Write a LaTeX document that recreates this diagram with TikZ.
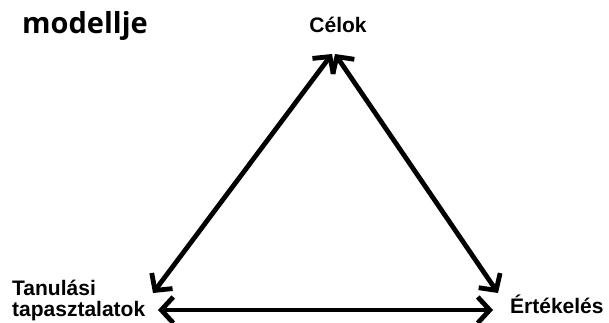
\documentclass[tikz,border=0pt]{standalone}
\usepackage{fontspec}
\setmainfont{Liberation Sans}
\newfontfamily\titlefont{Open Sans}
\usetikzlibrary{arrows.meta}

\begin{document}
\begin{tikzpicture}[x=1pt, y=-1pt,
		lbl/.style={inner sep=0, font=\fontsize{21}{20.5}\selectfont\bfseries, align=left},
		link/.style={line width=4.8pt, {Straight Barb[length=12pt, width=26pt]}-{Straight Barb[length=12pt, width=26pt]}}]
			\useasboundingbox (0,0) rectangle (609,322);
			\node[anchor=base west, inner sep=0, font=\titlefont\fontsize{29}{30}\selectfont\bfseries] (title) at (22,33) {modellje};
			\node[lbl, anchor=base] (celok) at (338,32) {Célok};
			\node[lbl, anchor=base west] (tanulas) at (12,316) {Tanulási\\tapasztalatok};
			\node[lbl, anchor=base west] (ertekeles) at (510,313) {Értékelés};
			\coordinate (cL) at (332,54);
			\coordinate (cR) at (335,54);
			\coordinate (tT) at (153,293);
			\coordinate (tR) at (158,310);
			\coordinate (eT) at (498,293);
			\coordinate (eL) at (493,310);
			\draw[link] (tT) -- (cL);
			\draw[link] (cR) -- (eT);
			\draw[link] (tR) -- (eL);
		\end{tikzpicture}
\end{document}
